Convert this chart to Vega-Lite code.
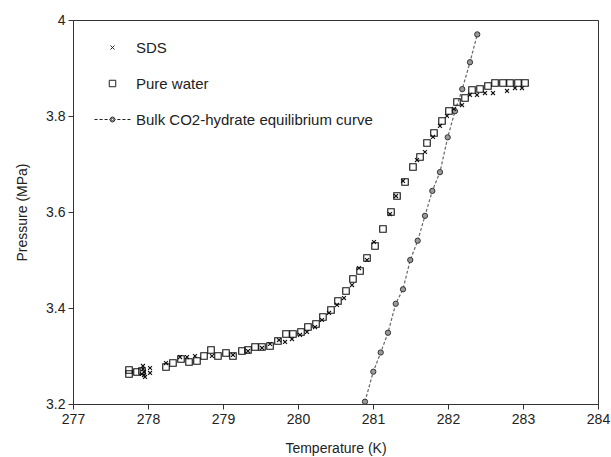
{
  "$schema": "https://vega.github.io/schema/vega-lite/v6.json",
  "width": 525,
  "height": 384,
  "autosize": {"type": "none"},
  "padding": {"left": 73, "top": 20, "right": 13, "bottom": 53},
  "background": "white",
  "datasets": {
    "exp": [
      {"series": "Pure water", "T": 277.747, "P": 3.2708},
      {"series": "Pure water", "T": 277.747, "P": 3.2625},
      {"series": "Pure water", "T": 277.853, "P": 3.2667},
      {"series": "Pure water", "T": 277.92, "P": 3.2688},
      {"series": "Pure water", "T": 278.24, "P": 3.2771},
      {"series": "Pure water", "T": 278.333, "P": 3.2854},
      {"series": "Pure water", "T": 278.44, "P": 3.2938},
      {"series": "Pure water", "T": 278.547, "P": 3.2875},
      {"series": "Pure water", "T": 278.653, "P": 3.2896},
      {"series": "Pure water", "T": 278.747, "P": 3.3},
      {"series": "Pure water", "T": 278.84, "P": 3.3125},
      {"series": "Pure water", "T": 278.933, "P": 3.3},
      {"series": "Pure water", "T": 279.04, "P": 3.3063},
      {"series": "Pure water", "T": 279.133, "P": 3.3},
      {"series": "Pure water", "T": 279.253, "P": 3.3104},
      {"series": "Pure water", "T": 279.333, "P": 3.3125},
      {"series": "Pure water", "T": 279.427, "P": 3.3188},
      {"series": "Pure water", "T": 279.52, "P": 3.3188},
      {"series": "Pure water", "T": 279.627, "P": 3.3208},
      {"series": "Pure water", "T": 279.733, "P": 3.3313},
      {"series": "Pure water", "T": 279.84, "P": 3.3458},
      {"series": "Pure water", "T": 279.933, "P": 3.3458},
      {"series": "Pure water", "T": 280.04, "P": 3.35},
      {"series": "Pure water", "T": 280.133, "P": 3.3604},
      {"series": "Pure water", "T": 280.24, "P": 3.3667},
      {"series": "Pure water", "T": 280.333, "P": 3.3813},
      {"series": "Pure water", "T": 280.44, "P": 3.3958},
      {"series": "Pure water", "T": 280.533, "P": 3.4146},
      {"series": "Pure water", "T": 280.64, "P": 3.4354},
      {"series": "Pure water", "T": 280.733, "P": 3.4604},
      {"series": "Pure water", "T": 280.827, "P": 3.4771},
      {"series": "Pure water", "T": 280.92, "P": 3.5042},
      {"series": "Pure water", "T": 281.027, "P": 3.5292},
      {"series": "Pure water", "T": 281.133, "P": 3.5646},
      {"series": "Pure water", "T": 281.24, "P": 3.6},
      {"series": "Pure water", "T": 281.32, "P": 3.6333},
      {"series": "Pure water", "T": 281.427, "P": 3.6625},
      {"series": "Pure water", "T": 281.533, "P": 3.6938},
      {"series": "Pure water", "T": 281.627, "P": 3.7146},
      {"series": "Pure water", "T": 281.72, "P": 3.7438},
      {"series": "Pure water", "T": 281.813, "P": 3.7646},
      {"series": "Pure water", "T": 281.92, "P": 3.7896},
      {"series": "Pure water", "T": 282.013, "P": 3.8104},
      {"series": "Pure water", "T": 282.12, "P": 3.8292},
      {"series": "Pure water", "T": 282.227, "P": 3.8375},
      {"series": "Pure water", "T": 282.32, "P": 3.8542},
      {"series": "Pure water", "T": 282.427, "P": 3.8563},
      {"series": "Pure water", "T": 282.533, "P": 3.8625},
      {"series": "Pure water", "T": 282.627, "P": 3.8688},
      {"series": "Pure water", "T": 282.733, "P": 3.8688},
      {"series": "Pure water", "T": 282.827, "P": 3.8688},
      {"series": "Pure water", "T": 282.933, "P": 3.8688},
      {"series": "Pure water", "T": 283.027, "P": 3.8688},
      {"series": "SDS", "T": 277.933, "P": 3.2792},
      {"series": "SDS", "T": 277.933, "P": 3.2729},
      {"series": "SDS", "T": 277.947, "P": 3.2667},
      {"series": "SDS", "T": 277.947, "P": 3.2604},
      {"series": "SDS", "T": 277.96, "P": 3.2563},
      {"series": "SDS", "T": 277.92, "P": 3.2625},
      {"series": "SDS", "T": 278.027, "P": 3.275},
      {"series": "SDS", "T": 278.027, "P": 3.2646},
      {"series": "SDS", "T": 278.24, "P": 3.2854},
      {"series": "SDS", "T": 278.427, "P": 3.2979},
      {"series": "SDS", "T": 278.52, "P": 3.2979},
      {"series": "SDS", "T": 278.627, "P": 3.3},
      {"series": "SDS", "T": 278.853, "P": 3.3},
      {"series": "SDS", "T": 279.133, "P": 3.3021},
      {"series": "SDS", "T": 279.333, "P": 3.3104},
      {"series": "SDS", "T": 279.52, "P": 3.3167},
      {"series": "SDS", "T": 279.627, "P": 3.325},
      {"series": "SDS", "T": 279.747, "P": 3.3333},
      {"series": "SDS", "T": 279.827, "P": 3.3292},
      {"series": "SDS", "T": 279.92, "P": 3.3354},
      {"series": "SDS", "T": 280.027, "P": 3.3438},
      {"series": "SDS", "T": 280.12, "P": 3.35},
      {"series": "SDS", "T": 280.227, "P": 3.3604},
      {"series": "SDS", "T": 280.32, "P": 3.375},
      {"series": "SDS", "T": 280.413, "P": 3.3896},
      {"series": "SDS", "T": 280.52, "P": 3.4063},
      {"series": "SDS", "T": 280.613, "P": 3.4208},
      {"series": "SDS", "T": 280.72, "P": 3.4479},
      {"series": "SDS", "T": 280.813, "P": 3.4833},
      {"series": "SDS", "T": 280.92, "P": 3.5},
      {"series": "SDS", "T": 281.013, "P": 3.5375},
      {"series": "SDS", "T": 281.227, "P": 3.5958},
      {"series": "SDS", "T": 281.307, "P": 3.6333},
      {"series": "SDS", "T": 281.4, "P": 3.6646},
      {"series": "SDS", "T": 281.587, "P": 3.7083},
      {"series": "SDS", "T": 281.693, "P": 3.725},
      {"series": "SDS", "T": 281.8, "P": 3.7563},
      {"series": "SDS", "T": 281.893, "P": 3.7792},
      {"series": "SDS", "T": 281.987, "P": 3.8},
      {"series": "SDS", "T": 282.08, "P": 3.8146},
      {"series": "SDS", "T": 282.187, "P": 3.8229},
      {"series": "SDS", "T": 282.293, "P": 3.8438},
      {"series": "SDS", "T": 282.387, "P": 3.8438},
      {"series": "SDS", "T": 282.493, "P": 3.8479},
      {"series": "SDS", "T": 282.6, "P": 3.8479},
      {"series": "SDS", "T": 282.787, "P": 3.8521},
      {"series": "SDS", "T": 282.893, "P": 3.8583},
      {"series": "SDS", "T": 282.987, "P": 3.8583}
    ],
    "bulk": [
      {"T": 280.893, "P": 3.2048},
      {"T": 281.004, "P": 3.2673},
      {"T": 281.103, "P": 3.3073},
      {"T": 281.2, "P": 3.3485},
      {"T": 281.303, "P": 3.4088},
      {"T": 281.4, "P": 3.439},
      {"T": 281.497, "P": 3.5},
      {"T": 281.596, "P": 3.5402},
      {"T": 281.693, "P": 3.592},
      {"T": 281.791, "P": 3.644},
      {"T": 281.893, "P": 3.683},
      {"T": 281.996, "P": 3.7556},
      {"T": 282.093, "P": 3.81},
      {"T": 282.19, "P": 3.856},
      {"T": 282.293, "P": 3.912},
      {"T": 282.39, "P": 3.97}
    ]
  },
  "encoding": {
    "x": {
      "field": "T", "type": "quantitative",
      "scale": {"domain": [277, 284], "nice": false, "zero": false},
      "axis": {"title": "Temperature (K)", "values": [277, 278, 279, 280, 281, 282, 283, 284], "format": "d", "titlePadding": 15, "labelPadding": 3}
    },
    "y": {
      "field": "P", "type": "quantitative",
      "scale": {"domain": [3.2, 4], "nice": false, "zero": false},
      "axis": {"title": "Pressure (MPa)", "values": [3.2, 3.4, 3.6, 3.8, 4], "format": "~g", "titlePadding": 16, "labelPadding": 3}
    }
  },
  "layer": [
    {
      "data": {"name": "bulk"},
      "mark": {"type": "line", "stroke": "#666", "strokeWidth": 1.2, "strokeDash": [3, 2]}
    },
    {
      "data": {"name": "bulk"},
      "mark": {"type": "point", "shape": "circle", "size": 28, "fill": "#9a9a9a", "fillOpacity": 1, "stroke": "#333", "strokeWidth": 1, "opacity": 1}
    },
    {
      "data": {"name": "exp"},
      "mark": {"type": "point", "size": 1296, "filled": false, "color": "#111", "strokeWidth": 1.1, "opacity": 1},
      "encoding": {
        "shape": {
          "field": "series", "type": "nominal",
          "scale": {
            "domain": ["SDS", "Pure water", "Bulk CO2-hydrate equilibrium curve"],
            "range": [
              "M-0.11,-0.11L0.11,0.11M-0.11,0.11L0.11,-0.11",
              "M-0.18,-0.18H0.18V0.18H-0.18Z",
              "M-1,0H-0.83M-0.72,0H-0.55M-0.44,0H-0.27M-0.17,0H-0.15M0.15,0H0.17M0.27,0H0.44M0.55,0H0.72M0.83,0H1M0.14,0L0.099,0.099L0,0.14L-0.099,0.099L-0.14,0L-0.099,-0.099L0,-0.14L0.099,-0.099ZM0.07,0L0.05,0.05L0,0.07L-0.05,0.05L-0.07,0L-0.05,-0.05L0,-0.07L0.05,-0.05Z"
            ]
          },
          "legend": {
            "title": null,
            "orient": "none",
            "legendX": 21,
            "legendY": 9,
            "symbolSize": 1296,
            "symbolStrokeColor": "#222",
            "symbolFillColor": "transparent",
            "symbolStrokeWidth": 1,
            "symbolOpacity": 1,
            "labelFontSize": 15,
            "labelFont": "Liberation Sans",
            "labelColor": "#222",
            "labelOffset": 5,
            "labelLimit": 400,
            "rowPadding": 9,
            "padding": 0
          }
        }
      }
    }
  ],
  "config": {
    "view": {"stroke": "#333", "strokeWidth": 1},
    "axis": {
      "grid": false,
      "domainColor": "#333",
      "tickColor": "#333",
      "tickSize": 5,
      "labelColor": "#222",
      "titleColor": "#222",
      "labelFont": "Liberation Sans",
      "titleFont": "Liberation Sans",
      "labelFontSize": 14,
      "titleFontSize": 14,
      "titleFontWeight": "normal",
      "labelFlush": false,
      "labelOverlap": false
    }
  }
}
